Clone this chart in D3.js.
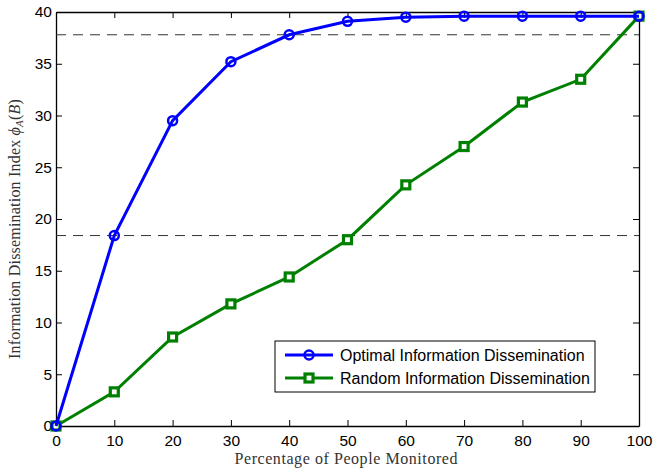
<!doctype html>
<html>
<head>
  <meta charset="utf-8">
  <script src="https://d3js.org/d3.v7.min.js"></script>
  <style>
    body { margin: 0; background: #fff; }
    .tick text { font-family: "Liberation Sans", Arial, sans-serif; font-size: 15.5px; fill: #000; }
    .axis path, .axis line { stroke: #000; }
    .lab { font-family: "Liberation Serif", "Times New Roman", serif; font-size: 16px; fill: #333; }
    .leg { font-family: "Liberation Sans", Arial, sans-serif; font-size: 16px; fill: #000; }
  </style>
</head>
<body>
<script>
  var percent = [0, 10, 20, 30, 40, 50, 60, 70, 80, 90, 100];
  var optimal = [0, 18.4, 29.5, 35.2, 37.8, 39.1, 39.5, 39.6, 39.6, 39.6, 39.6];
  var random = [0, 3.3, 8.6, 11.8, 14.4, 18.0, 23.3, 27.0, 31.3, 33.5, 39.6];
  var refLines = [37.8, 18.4];
  var xTicks = [0, 10, 20, 30, 40, 50, 60, 70, 80, 90, 100];
  var yTicks = [0, 5, 10, 15, 20, 25, 30, 35, 40];

  var W = 653, H = 468;
  var m = { left: 56, right: 14, top: 12, bottom: 42 };

  var svg = d3.select("body").append("svg")
    .attr("width", W).attr("height", H);

  var x = d3.scaleLinear().domain([0, 100]).range([m.left, W - m.right]);
  var y = d3.scaleLinear().domain([0, 40]).range([H - m.bottom, m.top]);

  // axes, ticks inward on all four sides
  svg.append("g").attr("class", "axis")
    .attr("transform", "translate(0," + y(0) + ")")
    .call(d3.axisBottom(x).tickValues(xTicks).tickSizeInner(-6).tickSizeOuter(0).tickPadding(9));
  svg.append("g").attr("class", "axis")
    .attr("transform", "translate(" + x(0) + ",0)")
    .call(d3.axisLeft(y).tickValues(yTicks).tickSizeInner(-6).tickSizeOuter(0).tickPadding(4));
  svg.append("g").attr("class", "axis")
    .attr("transform", "translate(0," + y(40) + ")")
    .call(d3.axisTop(x).tickValues(xTicks).tickSizeInner(-6).tickSizeOuter(0).tickFormat(""));
  svg.append("g").attr("class", "axis")
    .attr("transform", "translate(" + x(100) + ",0)")
    .call(d3.axisRight(y).tickValues(yTicks).tickSizeInner(-6).tickSizeOuter(0).tickFormat(""));
  svg.selectAll(".axis path").attr("stroke-width", 1.3);

  // dashed reference lines
  svg.selectAll(".ref").data(refLines).enter().append("line")
    .attr("x1", x(0)).attr("x2", x(100))
    .attr("y1", function (d) { return y(d); }).attr("y2", function (d) { return y(d); })
    .attr("stroke", "#333").attr("stroke-width", 1).attr("stroke-dasharray", "10,7");

  var line = d3.line()
    .x(function (d, i) { return x(percent[i]); })
    .y(function (d) { return y(d); });

  svg.append("path").datum(random)
    .attr("d", line).attr("fill", "none").attr("stroke", "#008000").attr("stroke-width", 3);
  svg.selectAll(".sq").data(random).enter().append("rect")
    .attr("x", function (d, i) { return x(percent[i]) - 4; })
    .attr("y", function (d) { return y(d) - 4; })
    .attr("width", 8).attr("height", 8)
    .attr("fill", "#fff").attr("stroke", "#008000").attr("stroke-width", 3.2);

  svg.append("path").datum(optimal)
    .attr("d", line).attr("fill", "none").attr("stroke", "#0000ff").attr("stroke-width", 3);
  svg.selectAll(".ci").data(optimal).enter().append("circle")
    .attr("cx", function (d, i) { return x(percent[i]); })
    .attr("cy", function (d) { return y(d); })
    .attr("r", 4.5)
    .attr("fill", "none").attr("stroke", "#0000ff").attr("stroke-width", 2.5);

  // axis labels
  svg.append("text").attr("class", "lab")
    .attr("x", 346).attr("y", H - 4)
    .attr("text-anchor", "middle")
    .attr("textLength", 223).attr("lengthAdjust", "spacing")
    .text("Percentage of People Monitored");
  var yl = svg.append("text").attr("class", "lab")
    .attr("transform", "translate(20,229) rotate(-90)")
    .attr("text-anchor", "middle")
    .style("letter-spacing", "0.2px");
  yl.append("tspan").text("Information Dissemination Index ");
  yl.append("tspan").attr("font-style", "italic").text("\u03D5");
  yl.append("tspan").attr("font-style", "italic").attr("font-size", "11px").attr("dy", 3).text("A");
  yl.append("tspan").attr("dy", -3).text("(");
  yl.append("tspan").attr("font-style", "italic").text("B");
  yl.append("tspan").text(")");

  // legend
  var series = [
    { name: "Optimal Information Dissemination", color: "#0000ff", mark: "circle" },
    { name: "Random Information Dissemination", color: "#008000", mark: "square" }
  ];
  var lg = svg.append("g").attr("transform", "translate(275,341)");
  lg.append("rect").attr("width", 320).attr("height", 51)
    .attr("fill", "#fff").attr("stroke", "#000").attr("stroke-width", 1);
  series.forEach(function (s, i) {
    var cy = 14 + i * 23;
    lg.append("line").attr("x1", 10).attr("x2", 58).attr("y1", cy).attr("y2", cy)
      .attr("stroke", s.color).attr("stroke-width", 3);
    if (s.mark === "circle") {
      lg.append("circle").attr("cx", 34).attr("cy", cy).attr("r", 4.5)
        .attr("fill", "none").attr("stroke", s.color).attr("stroke-width", 2.5);
    } else {
      lg.append("rect").attr("x", 30).attr("y", cy - 4).attr("width", 8).attr("height", 8)
        .attr("fill", "#fff").attr("stroke", s.color).attr("stroke-width", 3.2);
    }
    lg.append("text").attr("class", "leg").attr("x", 65).attr("y", cy + 5.5).text(s.name);
  });
</script>
</body>
</html>
